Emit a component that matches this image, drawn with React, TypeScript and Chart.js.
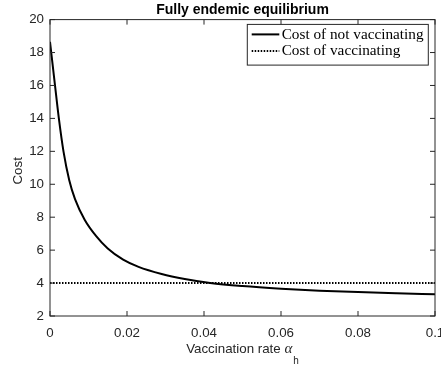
import React, { useEffect, useRef } from "react";
import { Chart, registerables } from "chart.js";

Chart.register(...registerables);

const titleText = "Fully endemic equilibrium";
const xTitleMain = "Vaccination rate ";
const xTitleSymbol = "α";
const xTitleSub = "h";
const yTitleText = "Cost";
const seriesNames = ["Cost of not vaccinating", "Cost of vaccinating"];

const rateValues = [0, 0.0013, 0.0023, 0.0035, 0.005, 0.0065, 0.009, 0.012, 0.015, 0.019, 0.023, 0.029, 0.035, 0.0416, 0.05, 0.06, 0.07, 0.08, 0.09, 0.1];
const costNotVaccinating = [18.65, 16.0, 14.0, 12.0, 10.25, 9.1, 7.85, 6.85, 6.1, 5.42, 4.98, 4.55, 4.25, 4.01, 3.82, 3.66, 3.54, 3.45, 3.38, 3.32];

const rateEnds = [0, 0.1];
const costVaccinating = [4, 4];

const xTicks = [0, 0.02, 0.04, 0.06, 0.08, 0.1];
const yTicks = [2, 4, 6, 8, 10, 12, 14, 16, 18, 20];

const AXIS = "#262626";
const SANS = "'Liberation Sans', Arial, Helvetica, sans-serif";
const SERIF = "'Liberation Serif', 'Times New Roman', serif";

const matlabFrame = {
  id: "matlabFrame",
  afterDraw(chart: any) {
    const { ctx, chartArea: a, scales } = chart;
    const xs = scales.x;
    const ys = scales.y;
    ctx.save();
    ctx.strokeStyle = AXIS;
    ctx.lineWidth = 1;
    ctx.strokeRect(a.left, a.top, a.right - a.left, a.bottom - a.top);
    const tl = 5;
    ctx.beginPath();
    xs.ticks.forEach((t: any) => {
      const px = xs.getPixelForValue(t.value);
      ctx.moveTo(px, a.bottom);
      ctx.lineTo(px, a.bottom - tl);
      ctx.moveTo(px, a.top);
      ctx.lineTo(px, a.top + tl);
    });
    ys.ticks.forEach((t: any) => {
      const py = ys.getPixelForValue(t.value);
      ctx.moveTo(a.left, py);
      ctx.lineTo(a.left + tl, py);
      ctx.moveTo(a.right, py);
      ctx.lineTo(a.right - tl, py);
    });
    ctx.stroke();

    const cx = (a.left + a.right) / 2;

    // title
    ctx.fillStyle = "#000000";
    ctx.font = `bold 14px ${SANS}`;
    ctx.textAlign = "center";
    ctx.textBaseline = "alphabetic";
    ctx.fillText(titleText, cx, 13.6);

    // legend
    const lw = 181;
    const lh = 40.7;
    const lx = a.right - 6.7 - lw;
    const ly = a.top + 4.8;
    ctx.fillStyle = "#ffffff";
    ctx.fillRect(lx, ly, lw, lh);
    ctx.strokeStyle = AXIS;
    ctx.lineWidth = 1;
    ctx.strokeRect(lx, ly, lw, lh);
    ctx.font = `15px ${SERIF}`;
    const mw = ctx.measureText(seriesNames[0]).width;
    const fs = (15 * 142) / mw;
    const rows = [
      { name: seriesNames[0], dash: [] as number[], y: ly + 10 },
      { name: seriesNames[1], dash: [1.5, 1.5], y: ly + 26.7 },
    ];
    rows.forEach((r) => {
      ctx.strokeStyle = "#000000";
      ctx.lineWidth = 2;
      ctx.setLineDash(r.dash);
      ctx.beginPath();
      ctx.moveTo(lx + 4.4, r.y);
      ctx.lineTo(lx + 32, r.y);
      ctx.stroke();
      ctx.setLineDash([]);
      ctx.fillStyle = "#000000";
      ctx.font = `${fs}px ${SERIF}`;
      ctx.textBaseline = "alphabetic";
      ctx.textAlign = "left";
      ctx.fillText(r.name, lx + 34.4, r.y + 4.2);
    });

    // x title with subscript
    const base = 353.3;
    ctx.fillStyle = AXIS;
    ctx.font = `13.33px ${SANS}`;
    const w1 = ctx.measureText(xTitleMain).width;
    ctx.font = `italic 15px ${SERIF}`;
    const w2 = ctx.measureText(xTitleSymbol).width;
    ctx.font = `10px ${SANS}`;
    const w3 = ctx.measureText(xTitleSub).width;
    let sx = cx - (w1 + w2 + w3 + 1) / 2;
    ctx.textBaseline = "alphabetic";
    ctx.textAlign = "left";
    ctx.font = `13.33px ${SANS}`;
    ctx.fillText(xTitleMain, sx, base);
    sx += w1;
    ctx.font = `italic 15px ${SERIF}`;
    ctx.fillText(xTitleSymbol, sx, base);
    sx += w2 + 1;
    ctx.font = `10px ${SANS}`;
    ctx.fillText(xTitleSub, sx, base + 10.5);

    // y title
    ctx.save();
    ctx.translate(18.3, (a.top + a.bottom) / 2 + 3);
    ctx.rotate(-Math.PI / 2);
    ctx.font = `13.33px ${SANS}`;
    ctx.textAlign = "center";
    ctx.textBaseline = "middle";
    ctx.fillText(yTitleText, 0, 0);
    ctx.restore();

    ctx.restore();
  },
};

export default function App() {
  const ref = useRef<HTMLCanvasElement | null>(null);
  useEffect(() => {
    if (!ref.current) return;
    const chart = new Chart(ref.current, {
      type: "line",
      data: {
        datasets: [
          {
            label: seriesNames[0],
            data: rateValues.map((x, i) => ({ x, y: costNotVaccinating[i] })),
            borderColor: "#000000",
            borderWidth: 2,
            pointRadius: 0,
            cubicInterpolationMode: "monotone",
            fill: false,
          },
          {
            label: seriesNames[1],
            data: rateEnds.map((x, i) => ({ x, y: costVaccinating[i] })),
            borderColor: "#000000",
            borderWidth: 2,
            borderDash: [1.5, 1.5],
            pointRadius: 0,
            fill: false,
          },
        ],
      },
      options: {
        responsive: false,
        animation: false,
        events: [],
        layout: { padding: { left: 0, right: 6, top: 19.6, bottom: 0 } },
        plugins: {
          legend: { display: false },
          tooltip: { enabled: false },
          title: { display: false },
        },
        scales: {
          x: {
            type: "linear",
            min: 0,
            max: 0.1,
            afterBuildTicks: (s: any) => {
              s.ticks = xTicks.map((v) => ({ value: v }));
            },
            afterFit: (s: any) => {
              s.height = 52;
              s.paddingLeft = 0;
              s.paddingRight = 0;
            },
            grid: { display: false, drawTicks: false },
            border: { display: false },
            ticks: {
              color: AXIS,
              padding: 9,
              maxRotation: 0,
              autoSkip: false,
              font: { family: SANS, size: 13.33 },
              callback: (v: any) => String(Number(Number(v).toFixed(2))),
            },
          },
          y: {
            type: "linear",
            min: 2,
            max: 20,
            afterBuildTicks: (s: any) => {
              s.ticks = yTicks.map((v) => ({ value: v }));
            },
            afterFit: (s: any) => {
              s.width = 50;
              s.paddingTop = 0;
              s.paddingBottom = 0;
            },
            grid: { display: false, drawTicks: false },
            border: { display: false },
            ticks: {
              color: AXIS,
              padding: 6,
              autoSkip: false,
              font: { family: SANS, size: 13.33 },
              callback: (v: any) => String(v),
            },
          },
        },
      },
      plugins: [matlabFrame],
    });
    return () => chart.destroy();
  }, []);
  return (
    <div style={{ position: "absolute", left: 0, top: 0, width: 441, height: 368, background: "#fff" }}>
      <canvas ref={ref} width={441} height={368} style={{ width: 441, height: 368, display: "block" }} />
    </div>
  );
}
